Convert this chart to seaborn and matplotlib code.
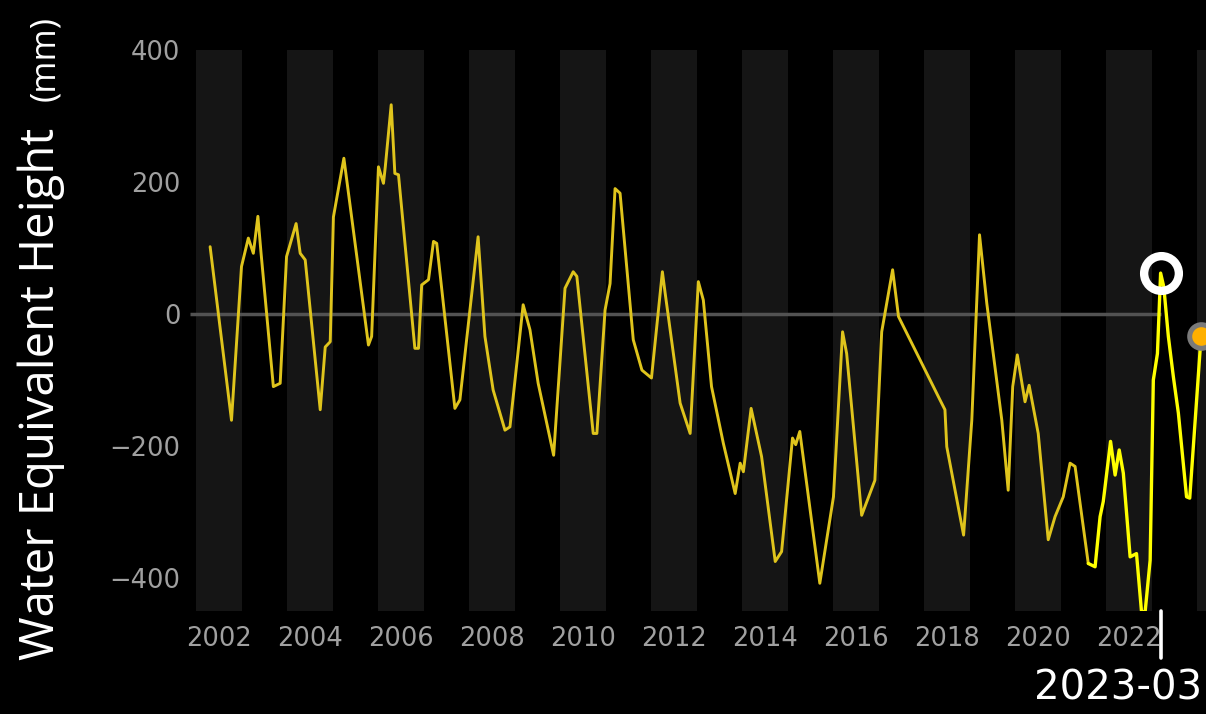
import matplotlib
matplotlib.use("Agg")
import matplotlib.pyplot as plt
import matplotlib.transforms as mtransforms
import pandas as pd
import seaborn as sns

# Monthly mass anomaly (decimal year, water equivalent height in mm)
years = [
    2002.31, 2002.78, 2003.00, 2003.15, 2003.26, 2003.36, 2003.43, 2003.70, 2003.85, 2003.99,
    2004.20, 2004.29, 2004.40, 2004.73, 2004.84, 2004.95, 2005.02, 2005.25, 2005.79, 2005.86,
    2006.01, 2006.12, 2006.16, 2006.29, 2006.37, 2006.45, 2006.81, 2006.89, 2006.96, 2007.11,
    2007.22, 2007.29, 2007.69, 2007.80, 2008.20, 2008.35, 2008.53, 2008.79, 2008.90, 2009.19,
    2009.34, 2009.52, 2009.86, 2010.11, 2010.29, 2010.37, 2010.73, 2010.81, 2010.99, 2011.10,
    2011.21, 2011.32, 2011.61, 2011.80, 2012.01, 2012.25, 2012.31, 2012.64, 2012.86, 2013.04,
    2013.15, 2013.33, 2013.59, 2013.85, 2013.96, 2014.03, 2014.20, 2014.43, 2014.73, 2014.87,
    2015.11, 2015.18, 2015.27, 2015.71, 2016.01, 2016.21, 2016.30, 2016.63, 2016.92, 2017.07,
    2017.31, 2017.44, 2018.35, 2018.46, 2018.50, 2018.87, 2019.05, 2019.22, 2019.38, 2019.71,
    2019.85, 2019.95, 2020.05, 2020.22, 2020.31, 2020.51, 2020.73, 2020.88, 2021.06, 2021.21,
    2021.32, 2021.61, 2021.76, 2021.87, 2021.94, 2022.10, 2022.20, 2022.29, 2022.38, 2022.53,
    2022.67, 2022.78, 2022.86, 2022.97, 2023.04, 2023.13, 2023.20, 2023.27, 2023.37, 2023.48,
    2023.59, 2023.77, 2023.84, 2024.09,
]
height_mm = [
    102, -161, 72, 115, 92, 148, 92, -110, -105, 87,
    137, 92, 82, -145, -50, -42, 147, 236, -47, -34,
    223, 198, 223, 317, 213, 211, -52, -52, 44, 52,
    110, 107, -143, -130, 117, -34, -115, -176, -171, 14,
    -24, -105, -214, 39, 64, 57, -181, -181, 6, 46,
    190, 183, -39, -85, -97, 64, 32, -135, -181, 49,
    21, -110, -196, -272, -226, -239, -143, -216, -375, -360,
    -188, -198, -178, -408, -277, -27, -60, -305, -252, -27,
    67, -4, -130, -145, -201, -335, -161, 120, 16, -161,
    -267, -110, -62, -133, -108, -181, -342, -307, -277, -226,
    -231, -378, -383, -307, -284, -193, -244, -206, -241, -368,
    -363, -451, -451, -373, -100, -60, 62, 41, -34, -95,
    -150, -277, -279, -33,
]

recent_from = 2021.61          # start of the highlighted recent record
highlight_year = 2023.20       # March 2023
highlight_label = "2023-03"
band_years = list(range(2002, 2025, 2))
tick_years = list(range(2002, 2023, 2))
ytick_values = [-400, -200, 0, 200, 400]

sns.set_theme(style="dark", rc={
    "axes.facecolor": "black",
    "figure.facecolor": "black",
    "axes.grid": False,
})
plt.rcParams["font.family"] = ["DejaVu Sans"]

W, H = 1206, 714
fig = plt.figure(figsize=(W / 100, H / 100), dpi=100, facecolor="black")
ax = fig.add_axes([190 / W, (H - 611) / H, 1040 / W, 561 / H])
ax.set_facecolor("black")

x0, x1 = 2001.868, 2024.725
ax.set_xlim(x0, x1)
ax.set_ylim(-450, 400)

# alternating year bands
for yr in band_years:
    ax.axvspan(yr, yr + 1, color="#151515", lw=0, zorder=0)

# zero reference up to the current month
ax.hlines(0, x0, highlight_year, color="#525252", lw=2.5, zorder=1)

df = pd.DataFrame({"year": years, "height": height_mm})
older = df[df["year"] <= recent_from]
recent = df[df["year"] >= recent_from]

sns.lineplot(data=older, x="year", y="height", color="#dfc41c", lw=2.1,
             estimator=None, sort=False, ax=ax, zorder=3)
sns.lineplot(data=recent, x="year", y="height", color="#ffff00", lw=2.4,
             estimator=None, sort=False, ax=ax, zorder=4)

# current month ring
hv = df.loc[(df["year"] - highlight_year).abs().idxmin(), "height"]
ax.plot([highlight_year], [hv], marker="o", ms=25, mfc="none", mec="white",
        mew=6, zorder=6, clip_on=False)

# latest observation
last = df.iloc[-1]
ax.plot([last["year"]], [last["height"]], marker="o", ms=17, mfc="#ffb000",
        mec="#7a7a7a", mew=3.6, zorder=7, clip_on=False)

# axis ticks and labels
ax.set_xticks([y + 0.5 for y in tick_years])
ax.set_xticklabels([str(y) for y in tick_years])
ax.set_yticks(ytick_values)
ax.set_yticklabels([f"{v}".replace("-", "\u2212") for v in ytick_values])
ax.tick_params(axis="both", length=0, colors="#a0a0a0", labelsize=18.5)
ax.tick_params(axis="x", pad=11)
ax.tick_params(axis="y", pad=7)
ax.set_xlabel("")
ax.set_ylabel("")
for s in ax.spines.values():
    s.set_visible(False)

# current month marker below the axis
trans = mtransforms.blended_transform_factory(ax.transData, ax.transAxes)
ax.plot([highlight_year, highlight_year], [0.0, -0.084], color="white", lw=2.6,
        transform=trans, clip_on=False, zorder=8)
fig.text(1202 / W, (H - 699) / H, highlight_label, color="white", fontsize=29,
         ha="right", va="baseline", family="DejaVu Sans")

# y axis title
fig.text(54 / W, (H - 660) / H, "Water Equivalent Height", color="white",
         fontsize=34, family="Open Sans", rotation=90, rotation_mode="anchor",
         ha="left", va="baseline")
fig.text(54 / W, (H - 101) / H, "(mm)", color="white", fontsize=25,
         family="Open Sans", rotation=90, rotation_mode="anchor",
         ha="left", va="baseline")

fig.savefig("out.png", dpi=100, facecolor="black")
